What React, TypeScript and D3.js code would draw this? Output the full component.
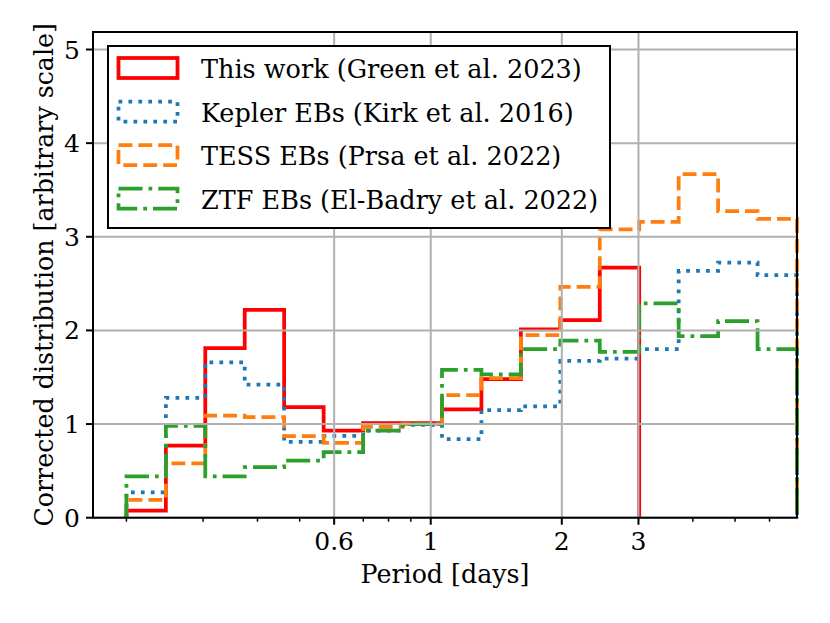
import * as d3 from 'd3';

const W = 830;
const H = 623;
const M = { left: 93, right: 797, top: 32, bottom: 517.7 };

// log-spaced period bin edges [days]
const edges = [0.2, 0.2464, 0.3035, 0.3739, 0.4606, 0.5676, 0.6993, 0.8614, 1.0613, 1.3075,
  1.6108, 1.9844, 2.4448, 3.0118, 3.7106, 4.5712, 5.6317, 6.938];

const greenWork = [0.075, 0.77, 1.81, 2.22, 1.18, 0.93, 1.01, 1.01, 1.157, 1.48, 2.01, 2.11, 2.67];
const keplerEBs = [0.27, 1.28, 1.66, 1.42, 0.81, 0.875, 0.93, 0.99, 0.84, 1.15, 1.19, 1.675, 1.70,
  1.80, 2.635, 2.725, 2.59];
const tessEBs = [0.19, 0.58, 1.09, 1.075, 0.87, 0.80, 0.97, 1.0, 1.31, 1.49, 1.95, 2.465, 3.078,
  3.16, 3.668, 3.273, 3.19];
const ztfEBs = [0.44, 0.98, 0.44, 0.54, 0.61, 0.70, 0.93, 1.0, 1.58, 1.53, 1.80, 1.89, 1.77,
  2.29, 1.94, 2.10, 1.80];

const labels = [
  'This work (Green et al. 2023)',
  'Kepler EBs (Kirk et al. 2016)',
  'TESS EBs (Prsa et al. 2022)',
  'ZTF EBs (El-Badry et al. 2022)',
];

const xMajor = [0.6, 1, 2, 3];
const xMinor = [0.2, 0.3, 0.4, 0.5, 0.7, 0.8, 0.9, 4, 5, 6];
const yTicks = [0, 1, 2, 3, 4, 5];

const LW = 3.75;
const series = [
  { vals: greenWork, color: '#ff0000', dash: undefined },
  { vals: keplerEBs, color: '#1f77b4', dash: `${LW},${LW * 1.65}` },
  { vals: tessEBs, color: '#ff7f0e', dash: `${LW * 3.7},${LW * 1.6}` },
  { vals: ztfEBs, color: '#2ca02c', dash: `${LW * 6.4},${LW * 1.6},${LW},${LW * 1.6}` },
];

const x = d3.scaleLog().domain([0.1676, 6.938]).range([M.left, M.right]);
const y = d3.scaleLinear().domain([0, 5.187]).range([M.bottom, M.top]);

function stepPath(vals: number[]) {
  const p = d3.path();
  p.moveTo(x(edges[0]), y(0));
  vals.forEach((v, i) => {
    p.lineTo(x(edges[i]), y(v));
    p.lineTo(x(edges[i + 1]), y(v));
  });
  p.lineTo(x(edges[vals.length]), y(0));
  return p.toString();
}

const FONT = 'DejaVu Serif';

export default function App() {
  const gridColor = '#b0b0b0';
  return (
    <div style={{ position: 'absolute', left: 0, top: 0 }}>
      <svg width={W} height={H} style={{ display: 'block', background: '#fff' }}
        fontFamily={FONT}>
        <rect width={W} height={H} fill="#fff" />
        {series.map((s, i) => (
          <path key={i} d={stepPath(s.vals)} fill="none" stroke={s.color} strokeWidth={LW}
            strokeDasharray={s.dash} strokeLinejoin="miter" />
        ))}
        {/* grid on top of patches, as matplotlib does */}
        {xMajor.map(t => (
          <line key={'gx' + t} x1={x(t)} x2={x(t)} y1={M.top} y2={M.bottom}
            stroke={gridColor} strokeWidth={2} />
        ))}
        {yTicks.map(t => (
          <line key={'gy' + t} x1={M.left} x2={M.right} y1={y(t)} y2={y(t)}
            stroke={gridColor} strokeWidth={2} />
        ))}
        {/* ticks */}
        {xMajor.map(t => (
          <g key={'xt' + t}>
            <line x1={x(t)} x2={x(t)} y1={M.bottom} y2={M.bottom + 7} stroke="#000" strokeWidth={2} />
            <text x={x(t)} y={550} textAnchor="middle" fontSize={25}>{t}</text>
          </g>
        ))}
        {xMinor.map(t => (
          <line key={'xm' + t} x1={x(t)} x2={x(t)} y1={M.bottom} y2={M.bottom + 4}
            stroke="#000" strokeWidth={1.5} />
        ))}
        {yTicks.map(t => (
          <g key={'yt' + t}>
            <line x1={M.left - 7} x2={M.left} y1={y(t)} y2={y(t)} stroke="#000" strokeWidth={2} />
            <text x={80} y={y(t) + 9} textAnchor="end" fontSize={25}>{t}</text>
          </g>
        ))}
        <rect x={M.left} y={M.top} width={M.right - M.left} height={M.bottom - M.top}
          fill="none" stroke="#000" strokeWidth={2} />
        {/* legend */}
        <rect x={108} y={46} width={502} height={182} fill="#fff" stroke="#000" strokeWidth={2} />
        {series.map((s, i) => {
          const cy = 68 + i * 43.5;
          return (
            <g key={'lg' + i}>
              <rect x={118.5} y={cy - 10} width={59} height={20} fill="none" stroke={s.color}
                strokeWidth={LW} strokeDasharray={s.dash} />
              <text x={201} y={cy + 10} fontSize={25.5}>{labels[i]}</text>
            </g>
          );
        })}
        <text x={(M.left + M.right) / 2} y={583} textAnchor="middle" fontSize={25.3}>Period [days]</text>
        <text transform={`translate(53,${(M.top + M.bottom) / 2}) rotate(-90)`} textAnchor="middle"
          fontSize={25.3}>Corrected distribution [arbitrary scale]</text>
      </svg>
    </div>
  );
}
